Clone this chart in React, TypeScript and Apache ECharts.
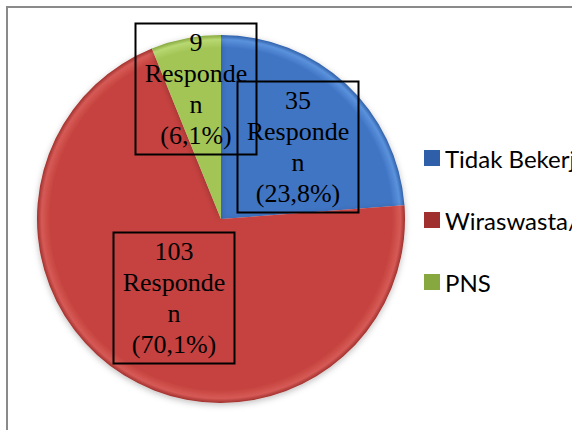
import React, { useEffect, useRef } from "react";
import * as echarts from "echarts";

const categories = ["Tidak Bekerja", "Wiraswasta/Swasta", "PNS"];
const values = [35, 103, 9];
const colors = ["#3f74c4", "#c6433f", "#a3c556"];
const unitWord = ["Responde", "n"];
// label box centres (layout only)
const labelPos = [
  [298, 147],
  [174, 298],
  [196, 89],
];

export default function App() {
  const ref = useRef<HTMLDivElement>(null);
  useEffect(() => {
    if (!ref.current) return;
    const chart = echarts.init(ref.current, null, { renderer: "svg" });
    const total = values.reduce((a, b) => a + b, 0);
    const cx = 221, cy = 219, r = 184;
    const mk = (base: string, light: string, dark: string) => ({
      type: "radial",
      x: cx,
      y: cy,
      r: r,
      global: true,
      colorStops: [
        { offset: 0, color: base },
        { offset: 0.93, color: base },
        { offset: 0.975, color: light },
        { offset: 1, color: dark },
      ],
    });
    const fills = [
      mk(colors[0], "#5b92dc", "#2f5fa8"),
      mk(colors[1], "#d65a56", "#9f302d"),
      mk(colors[2], "#b8d872", "#86a83e"),
    ];
    chart.setOption({
      animation: false,
      backgroundColor: "#ffffff",
      graphic: [
        {
          type: "rect",
          shape: { x: 7, y: 7, width: 620, height: 480 },
          style: { fill: "none", stroke: "#8a8a8a", lineWidth: 2 },
          z: -10,
        },
      ],
      legend: {
        orient: "vertical",
        left: 419,
        top: 141,
        itemWidth: 16,
        itemHeight: 16,
        itemGap: 38,
        icon: "rect",
        textStyle: {
          fontFamily: "Lato, 'Open Sans', sans-serif",
          fontSize: 24,
          color: "#000",
          lineHeight: 24,
        },
        data: categories,
      },
      series: [
        {
          type: "pie",
          center: [cx, cy],
          radius: [0, r],
          startAngle: 90,
          clockwise: true,
          avoidLabelOverlap: false,
          emphasis: { disabled: true },
          itemStyle: {
            borderWidth: 0,
            shadowBlur: 6,
            shadowColor: "rgba(0,0,0,0.25)",
            shadowOffsetY: 2,
          },
          label: {
            show: true,
            position: "inside",
            fontFamily: "'Liberation Serif', 'Times New Roman', serif",
            fontSize: 26,
            lineHeight: 31,
            color: "#000",
            align: "center",
            verticalAlign: "middle",
            width: 117,
            borderColor: "#000",
            borderWidth: 2,
            padding: [3, 2, 4, 2],
            formatter: (p: any) =>
              `${p.value}\n${unitWord[0]}\n${unitWord[1]}\n(${((p.value / total) * 100)
                .toFixed(1)
                .replace(".", ",")}%)`,
          },
          labelLine: { show: false },
          labelLayout: (params: any) => ({
            x: labelPos[params.dataIndex][0],
            y: labelPos[params.dataIndex][1],
            align: "center",
            verticalAlign: "middle",
          }),
          data: categories.map((name, i) => ({
            name,
            value: values[i],
            itemStyle: { color: fills[i] },
          })),
          color: colors,
        },
      ],
      color: colors,
    });
    return () => chart.dispose();
  }, []);
  return (
    <div
      ref={ref}
      style={{ position: "fixed", left: 0, top: 0, width: 572, height: 430 }}
    />
  );
}
